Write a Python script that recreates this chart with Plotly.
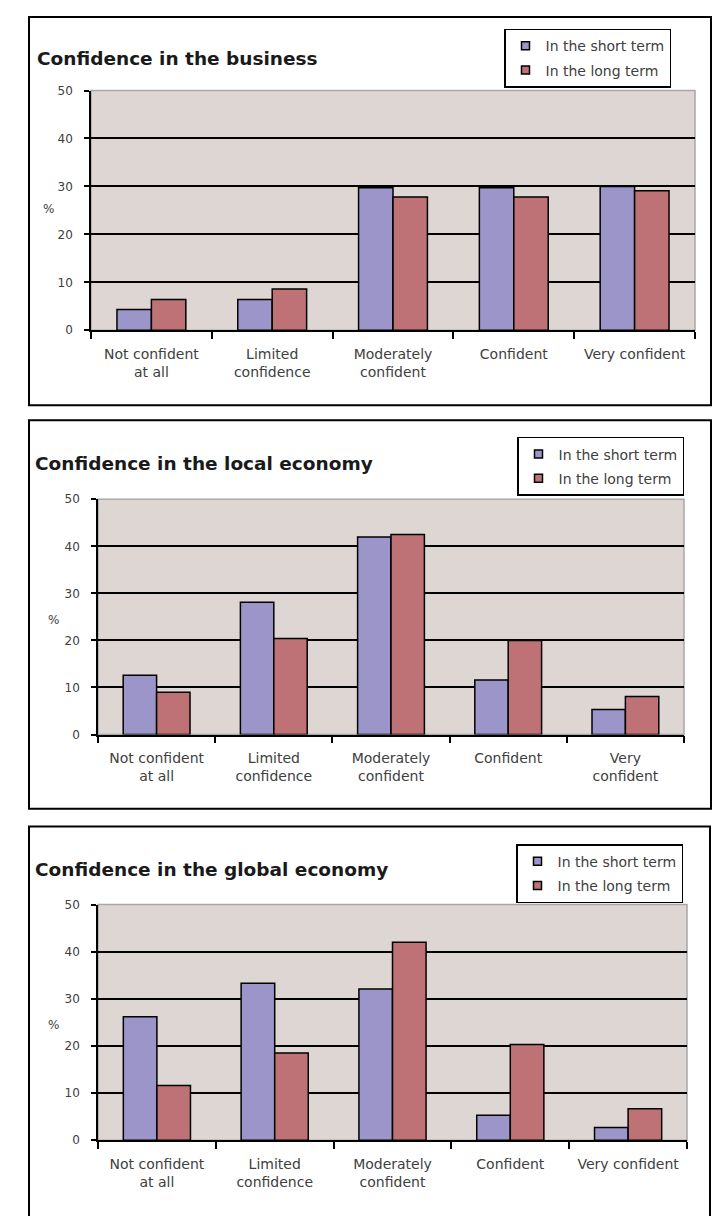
import plotly.graph_objects as go

W, H = 719, 1216

titles = ["Confidence in the business",
          "Confidence in the local economy",
          "Confidence in the global economy"]
cat_labels = [
    ["Not confident<br>at all", "Limited<br>confidence", "Moderately<br>confident", "Confident", "Very confident"],
    ["Not confident<br>at all", "Limited<br>confidence", "Moderately<br>confident", "Confident", "Very<br>confident"],
    ["Not confident<br>at all", "Limited<br>confidence", "Moderately<br>confident", "Confident", "Very confident"],
]
series_names = ["In the short term", "In the long term"]
business_short = [4.3, 6.4, 29.7, 29.7, 30.0]
business_long = [6.4, 8.6, 27.8, 27.8, 29.1]
local_short = [12.6, 28.1, 42.0, 11.6, 5.3]
local_long = [9.0, 20.4, 42.5, 20.0, 8.1]
global_short = [26.2, 33.3, 32.1, 5.3, 2.7]
global_long = [11.6, 18.5, 42.0, 20.3, 6.7]
y_ticks = [0, 10, 20, 30, 40, 50]

data_sets = [(business_short, business_long), (local_short, local_long), (global_short, global_long)]

SHORT_COL = "#9B95C9"
LONG_COL = "#BE7276"
BG = "#DDD6D3"
TXT = "#404040"
FONT = "DejaVu Sans"

def px(x):
    return x / W

def py(y):
    return 1 - y / H

# layout geometry (pixels)
plots = [  # x0, x1, ytop, ybottom
    (91, 695, 84.5, 327),
    (98, 684, 498, 736),
    (98, 687, 908, 1146.5),
]
frames = [(29, 10, 711, 403), (29, 418, 711, 811), (29, 829, 710, 1240)]
title_pos = [(35, 52), (33, 462), (33, 873)]
legend_pos = [(504, 22), (517, 435), (516, 847)]
pct_pos = [(48, 204), (53, 620), (53, 1030)]

fig = go.Figure()
shapes = []
annotations = []

for i in range(3):
    xa = "x" if i == 0 else f"x{i+1}"
    ya = "y" if i == 0 else f"y{i+1}"
    lg = "legend" if i == 0 else f"legend{i+1}"
    short_vals, long_vals = data_sets[i]
    cats = cat_labels[i]
    for name, vals, col in [(series_names[0], short_vals, SHORT_COL), (series_names[1], long_vals, LONG_COL)]:
        fig.add_trace(go.Bar(
            x=cats, y=vals, name=name, xaxis=xa, yaxis=ya,
            marker=dict(color=col, line=dict(color="black", width=1.5)),
            showlegend=False, hoverinfo="skip",
        ))
    for name, col in [(series_names[0], SHORT_COL), (series_names[1], LONG_COL)]:
        fig.add_trace(go.Scatter(
            x=[None], y=[None], mode="markers", name=name, xaxis=xa, yaxis=ya,
            marker=dict(symbol="square", size=8, color=col, line=dict(color="black", width=1.5)),
            legend=lg, legendgroup=f"{lg}{name}", showlegend=True,
        ))

    x0, x1, yt, yb = plots[i]
    sfx = "" if i == 0 else str(i + 1)
    fig.update_layout(**{
        f"xaxis{sfx}": dict(
            domain=[px(x0), px(x1)], anchor=ya, type="category",
            showline=True, linecolor="black", linewidth=1.5,
            ticks="outside", tickson="boundaries", ticklen=7, tickwidth=1.5, tickcolor="black",
            tickfont=dict(family=FONT, size=14, color=TXT),
            ticklabelstandoff=10, showgrid=False, fixedrange=True,
        ),
        f"yaxis{sfx}": dict(
            domain=[py(yb), py(yt)], anchor=xa, range=[0, 50],
            tickvals=y_ticks, showline=True, linecolor="black", linewidth=1.5,
            ticks="outside", ticklen=5, tickwidth=1.5, tickcolor="black",
            tickfont=dict(family=FONT, size=12, color=TXT),
            ticklabelstandoff=9,
            showgrid=True, gridcolor="black", gridwidth=1.5, zeroline=False, fixedrange=True,
        ),
    })
    lx, ly = legend_pos[i]
    fig.update_layout(**{
        lg: dict(
            x=px(lx), y=py(ly), xanchor="left", yanchor="top",
            bgcolor="white", bordercolor="black", borderwidth=1.5,
            font=dict(family=FONT, size=14, color=TXT),
            itemwidth=30, tracegroupgap=3, traceorder="grouped",
        )
    })
    # plot area background with gray outline
    shapes.append(dict(type="rect", xref="paper", yref="paper",
                       x0=px(x0), x1=px(x1), y0=py(yb), y1=py(yt),
                       fillcolor=BG, line=dict(color="#A8A8A8", width=1.5), layer="below"))
    fx0, fy0, fx1, fy1 = frames[i]
    shapes.append(dict(type="rect", xref="paper", yref="paper",
                       x0=px(fx0), x1=px(fx1), y0=py(fy1), y1=py(fy0),
                       line=dict(color="black", width=2), fillcolor="rgba(0,0,0,0)", layer="below"))
    tx, ty = title_pos[i]
    annotations.append(dict(text=f"<b>{titles[i]}</b>", xref="paper", yref="paper",
                            x=px(tx), y=py(ty), xanchor="left", yanchor="middle", showarrow=False,
                            font=dict(family=FONT, size=18.5, color="#1a1a1a")))
    cx, cy = pct_pos[i]
    annotations.append(dict(text="%", xref="paper", yref="paper",
                            x=px(cx), y=py(cy), xanchor="center", yanchor="middle", showarrow=False,
                            font=dict(family=FONT, size=12, color=TXT)))

fig.update_layout(
    width=W, height=H, margin=dict(l=0, r=0, t=0, b=0),
    paper_bgcolor="white", plot_bgcolor="rgba(0,0,0,0)",
    barmode="group", bargap=0.43, bargroupgap=0,
    shapes=shapes, annotations=annotations,
)

post_js = (
    "var s=document.createElement('style');"
    "s.innerHTML='html,body{margin:0;padding:0;overflow:hidden;}';"
    "document.head.appendChild(s);"
    "var g=document.getElementById('{plot_id}');"
    "g.style.position='absolute';g.style.top='0px';g.style.left='0px';"
)

fig.write_html("out.html", config={"displayModeBar": False}, post_script=post_js)
